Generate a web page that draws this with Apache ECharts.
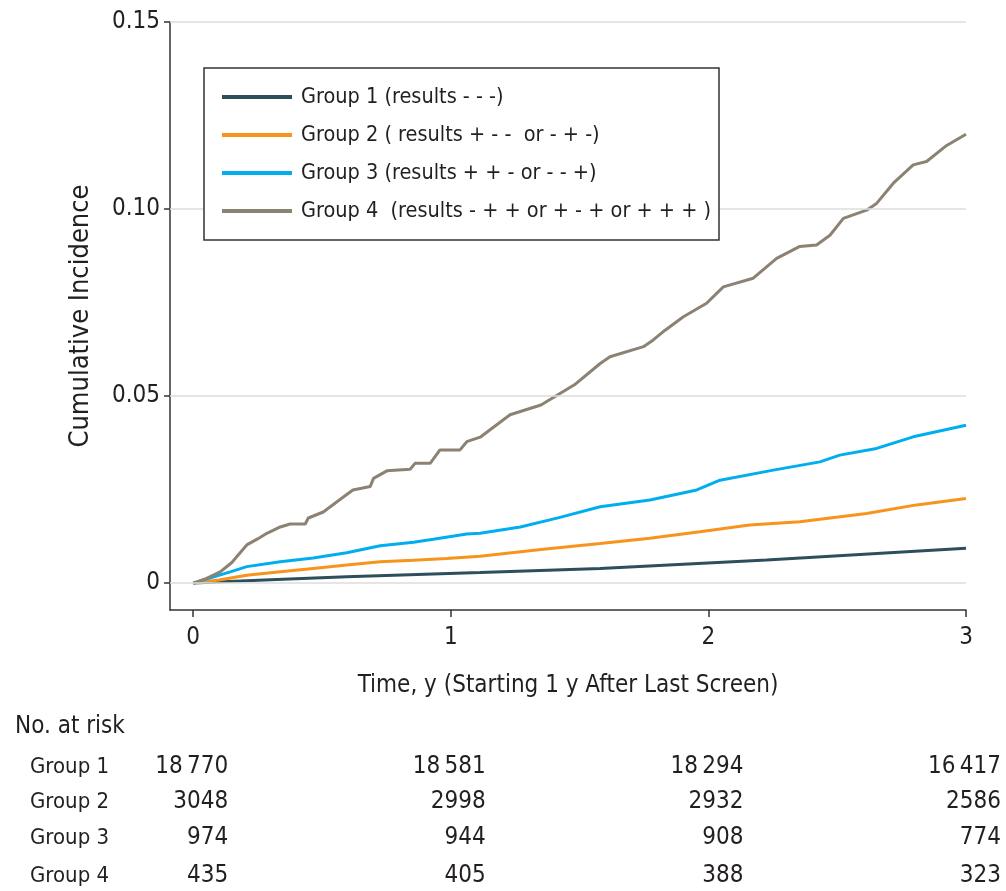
<!DOCTYPE html>
<html><head><meta charset="utf-8">
<script src="https://cdn.jsdelivr.net/npm/echarts@6/dist/echarts.min.js"></script>
<style>html,body{margin:0;padding:0;background:#fff}#c{width:1006px;height:891px}</style>
</head><body><div id="c"></div>
<script>
// ---- data ----
const groupNames = ['Group 1 (results - - -)', 'Group 2 ( results + - -  or - + -)', 'Group 3 (results + + - or - - +)', 'Group 4  (results - + + or + - + or + + + )'];
const riskRowLabels = ['Group 1', 'Group 2', 'Group 3', 'Group 4'];
const riskTimes = [0, 1, 2, 3];
const xTicks = [0, 1, 2, 3];
const yTicks = [0, 0.05, 0.10, 0.15];
const yTickLabels = ['0', '0.05', '0.10', '0.15'];
const risk1 = ['18\u2009770', '18\u2009581', '18\u2009294', '16\u2009417'];
const risk2 = ['3048', '2998', '2932', '2586'];
const risk3 = ['974', '944', '908', '774'];
const risk4 = ['435', '405', '388', '323'];
const group1 = [[0,0],[0.3,0.0009],[0.596,0.0017],[1.114,0.0028],[1.58,0.0039],[2.226,0.0062],[3.0,0.0093]];
const group2 = [[0,0],[0.1,0.0008],[0.208,0.0021],[0.338,0.003],[0.466,0.0039],[0.596,0.0048],[0.726,0.0057],[0.855,0.0061],[0.984,0.0066],[1.114,0.0072],[1.35,0.009],[1.58,0.0106],[1.773,0.012],[1.967,0.0137],[2.16,0.0155],[2.355,0.0164],[2.614,0.0186],[2.808,0.0209],[3.0,0.0226]];
const group3 = [[0,0],[0.144,0.003],[0.208,0.0044],[0.338,0.0057],[0.466,0.0067],[0.596,0.0081],[0.726,0.010],[0.855,0.0109],[0.932,0.0117],[1.062,0.0131],[1.114,0.0133],[1.27,0.0150],[1.42,0.0175],[1.58,0.0204],[1.773,0.0222],[1.955,0.0249],[2.045,0.0275],[2.252,0.0302],[2.433,0.0324],[2.51,0.0342],[2.653,0.036],[2.795,0.0391],[3.0,0.0422]];
const group4 = [[0,0],[0.05,0.0012],[0.105,0.003],[0.15,0.0055],[0.208,0.0102],[0.25,0.0118],[0.286,0.0133],[0.338,0.015],[0.376,0.0158],[0.435,0.0158],[0.447,0.0174],[0.505,0.019],[0.583,0.023],[0.62,0.0249],[0.687,0.0258],[0.70,0.028],[0.752,0.030],[0.842,0.0304],[0.861,0.032],[0.92,0.032],[0.958,0.0356],[1.036,0.0356],[1.062,0.0378],[1.114,0.039],[1.23,0.045],[1.35,0.0476],[1.48,0.053],[1.58,0.0587],[1.618,0.0605],[1.748,0.0632],[1.786,0.065],[1.832,0.0676],[1.903,0.0712],[1.993,0.0748],[2.058,0.0792],[2.174,0.0815],[2.265,0.0868],[2.355,0.090],[2.42,0.0904],[2.472,0.093],[2.524,0.0975],[2.614,0.0997],[2.653,0.1015],[2.718,0.1069],[2.795,0.1118],[2.847,0.1127],[2.925,0.117],[3.0,0.120]];

// ---- styles ----
const FONT = '"DejaVu Sans Condensed","Liberation Sans Narrow","Liberation Sans",sans-serif';
const TXT = '#231f20';
const colors = ['#2d4f5c', '#f7941d', '#00aeef', '#8c8273'];
const seriesData = [group1, group2, group3, group4];
const riskData = [risk1, risk2, risk3, risk4];

const chart = echarts.init(document.getElementById('c'), null, {renderer: 'canvas'});
const series = seriesData.map((d, i) => ({
  name: groupNames[i], type: 'line', data: d, showSymbol: false, symbol: 'none',
  lineStyle: {color: colors[i], width: 3}, itemStyle: {color: colors[i]}, animation: false
}));
series.push({
  type: 'line', data: [], silent: true, animation: false, z: 1,
  markLine: {silent: true, symbol: ['none', 'none'], label: {show: false},
    lineStyle: {color: '#dcdcdc', width: 1.5, type: 'solid'},
    data: yTicks.map(v => ({yAxis: v}))}
});

chart.setOption({
  animation: false,
  grid: {left: 170, right: 40, top: 22, bottom: 281, containLabel: false},
  xAxis: {type: 'value', min: -0.09, max: 3,
    name: 'Time, y (Starting 1 y After Last Screen)', nameLocation: 'middle', nameGap: 64,
    nameTextStyle: {fontFamily: FONT, fontSize: 24, color: TXT},
    axisLine: {show: true, onZero: false, lineStyle: {color: '#333', width: 1.5}},
    axisTick: {show: true, length: 7, customValues: xTicks, lineStyle: {color: '#333', width: 1.5}},
    axisLabel: {customValues: xTicks, fontFamily: FONT, fontSize: 24, color: TXT, margin: 16},
    splitLine: {show: false}},
  yAxis: {type: 'value', min: -0.0072, max: 0.15,
    name: 'Cumulative Incidence', nameLocation: 'middle', nameGap: 76, nameRotate: 90,
    nameTextStyle: {fontFamily: FONT, fontSize: 27, color: TXT},
    axisLine: {show: true, onZero: false, lineStyle: {color: '#333', width: 1.5}},
    axisTick: {show: true, length: 6, customValues: yTicks, lineStyle: {color: '#333', width: 1.5}},
    axisLabel: {customValues: yTicks, fontFamily: FONT, fontSize: 24, color: TXT, margin: 10,
      formatter: v => { const i = yTicks.findIndex(t => Math.abs(t - v) < 1e-9); return i >= 0 ? yTickLabels[i] : ''; }},
    splitLine: {show: false}},
  legend: {orient: 'vertical', left: 222, top: 85, itemWidth: 70, itemHeight: 4, icon: 'rect',
    itemGap: 14, padding: 0, selectedMode: false, z: 6,
    textStyle: {fontFamily: FONT, fontSize: 21.5, color: TXT, lineHeight: 24, padding: [0, 0, 0, 4]},
    data: groupNames},
  series: series
});

const px = t => chart.convertToPixel({xAxisIndex: 0}, t);
const graphics = [{
  type: 'rect', shape: {x: 204, y: 68, width: 515, height: 172}, silent: true, z: 5,
  style: {fill: '#fff', stroke: '#333', lineWidth: 1.5}
}, {
  type: 'text', x: 15, y: 727, silent: true,
  style: {text: 'No. at risk', font: '24px ' + FONT, fill: TXT, textVerticalAlign: 'middle'}
}];
const rowY = [767, 802, 838, 876];
riskRowLabels.forEach((lab, r) => {
  graphics.push({type: 'text', x: 30, y: rowY[r], silent: true,
    style: {text: lab, font: '22px ' + FONT, fill: TXT, textVerticalAlign: 'middle'}});
  riskTimes.forEach((t, c) => {
    graphics.push({type: 'text', x: px(t) + 35, y: rowY[r], silent: true,
      style: {text: riskData[r][c], font: '24px ' + FONT, fill: TXT, textAlign: 'right', textVerticalAlign: 'middle'}});
  });
});
chart.setOption({graphic: graphics});
</script></body></html>
